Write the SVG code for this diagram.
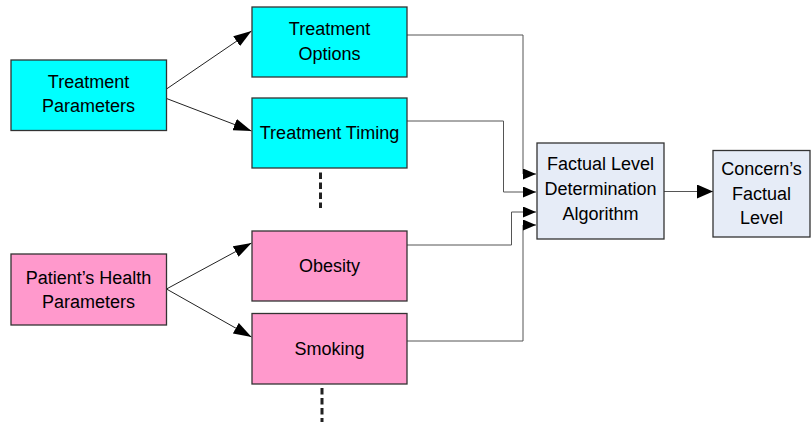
<svg xmlns="http://www.w3.org/2000/svg" width="811" height="422" viewBox="0 0 811 422">
<style>
  .box{stroke:#333;stroke-width:1.3}
  .cyan{fill:#00FFFF}
  .pink{fill:#FF99CC}
  .light{fill:#E6ECF7}
  text{font-family:"Liberation Sans",Arial,sans-serif;font-size:18px;fill:#000;text-anchor:middle}
  .lnk{fill:none;stroke:#222;stroke-width:1}
  .feed{fill:none;stroke:#555;stroke-width:1}
  .dots{fill:none;stroke:#222;stroke-width:3;stroke-dasharray:6.5 3.5}
</style>
<defs>
  <marker id="big" markerUnits="userSpaceOnUse" markerWidth="18" markerHeight="12" refX="18" refY="6" orient="auto">
    <path d="M0,0 L18,6 L0,12 z" fill="#000"/>
  </marker>
  <marker id="small" markerUnits="userSpaceOnUse" markerWidth="13" markerHeight="11" refX="13" refY="5.5" orient="auto">
    <path d="M0,0 L13,5.5 L0,11 z" fill="#000"/>
  </marker>
  <marker id="mid" markerUnits="userSpaceOnUse" markerWidth="16" markerHeight="14" refX="16" refY="7" orient="auto">
    <path d="M0,0 L16,7 L0,14 z" fill="#000"/>
  </marker>
</defs>
<g id="connectors">
  <line class="lnk" x1="166.5" y1="89" x2="251.5" y2="31" marker-end="url(#big)"/>
  <line class="lnk" x1="166.5" y1="98.5" x2="251.5" y2="131" marker-end="url(#big)"/>
  <line class="lnk" x1="166.5" y1="289" x2="251.5" y2="243" marker-end="url(#big)"/>
  <line class="lnk" x1="166.5" y1="289" x2="251.5" y2="337" marker-end="url(#big)"/>
  <path class="feed" d="M407,35 H523 V174 H536" marker-end="url(#small)"/>
  <path class="feed" d="M407,121 H503.5 V192 H536" marker-end="url(#small)"/>
  <path class="feed" d="M407,245 H511.5 V212 H536" marker-end="url(#small)"/>
  <path class="feed" d="M407,341 H523 V225 H536" marker-end="url(#small)"/>
  <line class="feed" x1="664" y1="191.5" x2="713" y2="191.5" marker-end="url(#mid)"/>
  <line class="dots" x1="320.5" y1="172.5" x2="320.5" y2="208"/>
  <line class="dots" x1="322" y1="388" x2="322" y2="422"/>
</g>
<g id="treatment-parameters">
  <rect class="box cyan" x="11" y="60" width="155.5" height="70.5"/>
  <text x="88.5" y="88">Treatment</text>
  <text x="88.5" y="112">Parameters</text>
</g>
<g id="treatment-options">
  <rect class="box cyan" x="252" y="7" width="155" height="70"/>
  <text x="329.5" y="35">Treatment</text>
  <text x="329.5" y="60">Options</text>
</g>
<g id="treatment-timing">
  <rect class="box cyan" x="252" y="98" width="155" height="70"/>
  <text x="329.5" y="139">Treatment Timing</text>
</g>
<g id="patient-health-parameters">
  <rect class="box pink" x="11" y="254" width="155.5" height="71"/>
  <text x="88.5" y="283.5">Patient’s Health</text>
  <text x="88.5" y="308">Parameters</text>
</g>
<g id="obesity">
  <rect class="box pink" x="252" y="231" width="155" height="70"/>
  <text x="329.5" y="272">Obesity</text>
</g>
<g id="smoking">
  <rect class="box pink" x="252" y="313.5" width="155" height="70.5"/>
  <text x="329.5" y="355">Smoking</text>
</g>
<g id="factual-level-algorithm">
  <rect class="box light" x="537" y="143" width="127" height="96"/>
  <text x="600.5" y="169.5">Factual Level</text>
  <text x="600.5" y="195">Determination</text>
  <text x="600.5" y="220">Algorithm</text>
</g>
<g id="concerns-factual-level">
  <rect class="box light" x="713" y="150.5" width="97" height="86.5"/>
  <text x="761.5" y="175">Concern’s</text>
  <text x="761.5" y="199.5">Factual</text>
  <text x="761.5" y="223.5">Level</text>
</g>
</svg>
